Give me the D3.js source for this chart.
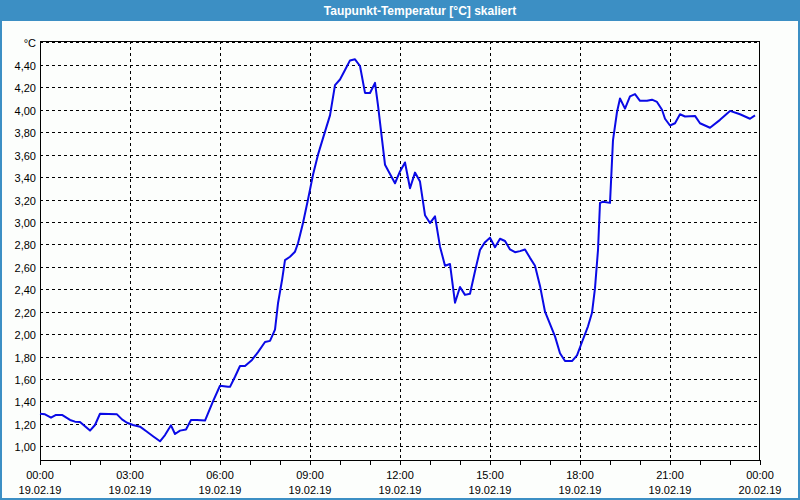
<!DOCTYPE html>
<html>
<head>
<meta charset="utf-8">
<script src="https://cdn.jsdelivr.net/npm/d3@7"></script>
<style>
  html, body { margin: 0; padding: 0; background: #fcfefc; }
  svg { display: block; }
</style>
</head>
<body>
<svg id="chart" width="800" height="500"></svg>
<script>
const title = "Taupunkt-Temperatur [°C] skaliert";
const unitLabel = "°C";
// minutes since 19.02.19 00:00
const minutes = [0,10,22,32,44,60,70,80,100,110,120,154,164,174,186,200,214,226,240,250,262,270,280,292,302,314,330,346,360,376,380,390,400,410,424,436,450,460,470,476,484,490,500,510,516,526,536,546,556,570,580,590,600,610,620,630,640,650,660,670,676,690,710,720,730,740,750,760,770,780,790,800,810,820,830,840,850,860,870,880,890,900,910,920,930,940,950,960,970,980,990,1000,1010,1030,1040,1050,1064,1074,1084,1096,1104,1110,1116,1120,1126,1140,1146,1154,1160,1170,1180,1190,1200,1214,1224,1234,1244,1250,1260,1270,1280,1290,1310,1320,1340,1360,1380,1400,1420,1430];
const values = [1.29,1.285,1.255,1.28,1.28,1.235,1.22,1.217,1.14,1.19,1.29,1.285,1.24,1.21,1.19,1.175,1.13,1.09,1.045,1.10,1.187,1.11,1.14,1.15,1.235,1.235,1.23,1.40,1.54,1.53,1.53,1.62,1.716,1.716,1.77,1.84,1.93,1.94,2.04,2.275,2.48,2.66,2.69,2.735,2.81,2.99,3.20,3.42,3.60,3.805,3.95,4.22,4.27,4.355,4.44,4.45,4.39,4.15,4.15,4.24,4.04,3.51,3.345,3.45,3.53,3.30,3.44,3.36,3.06,2.99,3.05,2.78,2.61,2.625,2.28,2.42,2.35,2.36,2.56,2.75,2.82,2.86,2.775,2.85,2.83,2.755,2.73,2.74,2.755,2.68,2.61,2.43,2.20,1.98,1.83,1.76,1.76,1.81,1.93,2.07,2.19,2.41,2.75,3.17,3.18,3.17,3.73,3.98,4.10,4.01,4.12,4.14,4.08,4.08,4.09,4.07,4.00,3.92,3.86,3.88,3.96,3.94,3.945,3.88,3.84,3.91,3.99,3.96,3.92,3.95];
const yTicks = [1.0,1.2,1.4,1.6,1.8,2.0,2.2,2.4,2.6,2.8,3.0,3.2,3.4,3.6,3.8,4.0,4.2,4.4,4.6];
const xTicks = [0,180,360,540,720,900,1080,1260,1440];
const xTimeLabels = ["00:00","03:00","06:00","09:00","12:00","15:00","18:00","21:00","00:00"];
const xDateLabels = ["19.02.19","19.02.19","19.02.19","19.02.19","19.02.19","19.02.19","19.02.19","19.02.19","20.02.19"];
const xMinorTicks = d3.range(0, 1441, 60);

const svg = d3.select("#chart");
const W = 800, H = 500;
const L = 40, R = 760, T = 41, B = 460;

const x = d3.scaleLinear().domain([0, 1440]).range([L, R]);
const y = d3.scaleLinear().domain([0.878, 4.613]).range([B, T]);

// background
svg.append("rect").attr("width", W).attr("height", H).attr("fill", "#fcfefc");
// title bar
svg.append("rect").attr("x", 0).attr("y", 0).attr("width", W).attr("height", 21).attr("fill", "#3c8fc4");
svg.append("text").attr("x", 420).attr("y", 11).attr("text-anchor", "middle")
  .attr("dominant-baseline", "central").attr("fill", "#ffffff")
  .attr("font-family", "Liberation Sans, Arial, sans-serif").attr("font-size", 12).attr("font-weight", "bold")
  .text(title);
// window border
svg.append("rect").attr("x", 1).attr("y", 0).attr("width", W - 2).attr("height", H - 1)
  .attr("fill", "none").attr("stroke", "#3c8fc4").attr("stroke-width", 2);

const font = "Liberation Sans, Arial, sans-serif";

// horizontal grid
svg.append("g").selectAll("line").data(yTicks).join("line")
  .attr("x1", L).attr("x2", R)
  .attr("y1", d => Math.round(y(d)) + 0.5).attr("y2", d => Math.round(y(d)) + 0.5)
  .attr("stroke", "#000").attr("stroke-width", 1).attr("stroke-dasharray", "3,3")
  .attr("shape-rendering", "crispEdges");
// vertical grid
svg.append("g").selectAll("line").data(xTicks.slice(1, -1)).join("line")
  .attr("x1", d => Math.round(x(d)) + 0.5).attr("x2", d => Math.round(x(d)) + 0.5)
  .attr("y1", T).attr("y2", B)
  .attr("stroke", "#000").attr("stroke-width", 1).attr("stroke-dasharray", "3,3")
  .attr("shape-rendering", "crispEdges");

// frame
svg.append("rect").attr("x", L + 0.5).attr("y", T + 0.5).attr("width", R - L - 1).attr("height", B - T)
  .attr("fill", "none").attr("stroke", "#000").attr("stroke-width", 1).attr("shape-rendering", "crispEdges");

// minor ticks
svg.append("g").selectAll("line").data(xMinorTicks).join("line")
  .attr("x1", d => Math.round(x(d)) + 0.5).attr("x2", d => Math.round(x(d)) + 0.5)
  .attr("y1", B).attr("y2", B + 5)
  .attr("stroke", "#000").attr("stroke-width", 1).attr("shape-rendering", "crispEdges");

// y labels
svg.append("g").selectAll("text").data(yTicks).join("text")
  .attr("x", 36).attr("y", d => y(d) + 1)
  .attr("text-anchor", "end").attr("dominant-baseline", "central")
  .attr("font-family", font).attr("font-size", 11).attr("fill", "#000")
  .text(d => d === 4.6 ? unitLabel : d3.format(".2f")(d).replace(".", ","));

// x labels
const xl = svg.append("g");
xl.selectAll("text.t").data(xTicks).join("text").attr("class", "t")
  .attr("x", d => x(d)).attr("y", 475).attr("text-anchor", "middle").attr("dominant-baseline", "central")
  .attr("font-family", font).attr("font-size", 11).attr("fill", "#000")
  .text((d, i) => xTimeLabels[i]);
xl.selectAll("text.d").data(xTicks).join("text").attr("class", "d")
  .attr("x", d => x(d)).attr("y", 490).attr("text-anchor", "middle").attr("dominant-baseline", "central")
  .attr("font-family", font).attr("font-size", 11).attr("fill", "#000")
  .text((d, i) => xDateLabels[i]);

// data line
const data = minutes.map((m, i) => ({ m, v: values[i] }));
svg.append("path").datum(data)
  .attr("fill", "none").attr("stroke", "#0a0ae6").attr("stroke-width", 2)
  .attr("stroke-linejoin", "round")
  .attr("d", d3.line().x(d => x(d.m)).y(d => y(d.v)));
</script>
</body>
</html>
